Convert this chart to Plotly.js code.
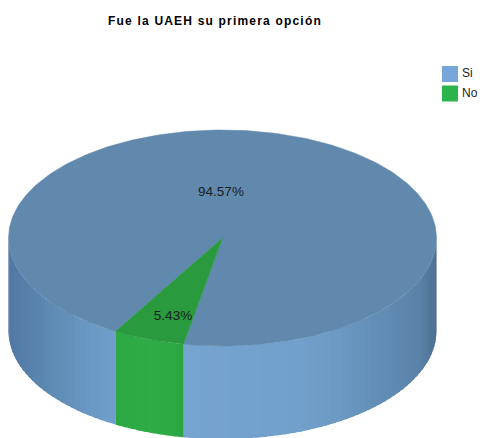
<!DOCTYPE html>
<html>
<head>
<meta charset="utf-8">
<script src="https://cdn.plot.ly/plotly-3.0.1.min.js"></script>
<style>
html,body{margin:0;padding:0;background:#fff;}
#chart{width:482px;height:438px;}
.gtitle{letter-spacing:1.19px;}
</style>
</head>
<body>
<div id="chart"></div>
<script>
var categories = ['Si', 'No'];
var values = [94.57, 5.43];
var chartTitle = 'Fue la UAEH su primera opción';

var topColors = ['#6189ae', '#2a9a3e'];
var legendColors = ['#77a7da', '#2db34b'];
// side colour by pixel x: [x, r, g, b]
var sideStops = [
  [[9,80,120,162],[50,94,138,180],[110,112,158,204],[185,118,163,207],[300,114,160,204],[335,108,154,197],[370,100,144,184],[420,90,130,168],[437,76,112,146]],
  [[115,44,168,66],[150,46,172,70],[183,44,168,66]]
];

var CX = 222.5, CY = 238, RX = 214, RY = 108, DEPTH = 93;
var START_ANGLE = 30.05; // degrees clockwise from the front of the pie
var STEP = 2;

function px(a){ return CX - RX * Math.sin(a * Math.PI / 180); }
function py(a, d){ return CY + RY * Math.cos(a * Math.PI / 180) + (d || 0); }
function sideColor(stops, x){
  var i = 0;
  while (i < stops.length - 2 && x > stops[i + 1][0]) i++;
  var a = stops[i], b = stops[i + 1];
  var t = Math.max(0, Math.min(1, (x - a[0]) / (b[0] - a[0])));
  return 'rgb(' + [1,2,3].map(function(k){ return Math.round(a[k] + (b[k] - a[k]) * t); }).join(',') + ')';
}

var total = values.reduce(function(s, v){ return s + v; }, 0);
var sideTraces = [], topTraces = [];
var acc = START_ANGLE;
values.forEach(function(v, idx){
  var a0 = acc, a1 = acc + v / total * 360;
  acc = a1;
  // top wedge
  var xs = [CX], ys = [CY];
  for (var a = a0; a < a1; a += 1){ xs.push(px(a)); ys.push(py(a)); }
  xs.push(px(a1)); ys.push(py(a1)); xs.push(CX); ys.push(CY);
  topTraces.push({type:'scatter', mode:'lines', x:xs, y:ys, fill:'toself',
    fillcolor:topColors[idx], line:{color:topColors[idx], width:0.5}, hoverinfo:'skip', showlegend:false});
  // visible outer wall, in overlapping strips so no seams show
  [-360, 0, 360].forEach(function(shift){
    var s0 = Math.max(a0 + shift, -90), s1 = Math.min(a1 + shift, 90);
    for (var s = s0; s < s1; s += STEP){
      var e = Math.min(s + STEP * 1.6, s1);
      var x = [], y = [];
      for (var k = 0; k <= 5; k++){ var t = s + (e - s) * k / 5; x.push(px(t)); y.push(py(t)); }
      for (k = 5; k >= 0; k--){ t = s + (e - s) * k / 5; x.push(px(t)); y.push(py(t, DEPTH)); }
      x.push(x[0]); y.push(y[0]);
      var c = sideColor(sideStops[idx], px(s + STEP / 2));
      sideTraces.push({type:'scatter', mode:'lines', x:x, y:y, fill:'toself', fillcolor:c,
        line:{color:c, width:0}, hoverinfo:'skip', showlegend:false});
    }
  });
});

var labelTrace = {type:'scatter', mode:'text', x:[221, 173], y:[193, 317],
  text: values.map(function(v){ return v.toFixed(2) + '%'; }),
  textposition:'middle center',
  textfont:{family:'Liberation Sans, Arial, sans-serif', size:13.5, color:'#15211e'},
  hoverinfo:'skip', showlegend:false};

var legendTrace = {type:'scatter', mode:'markers', x:[450, 450], y:[74, 93.5],
  marker:{symbol:'square', size:16, color:legendColors, line:{width:0}},
  hoverinfo:'skip', showlegend:false};

var legendText = {type:'scatter', mode:'text', x:[462, 462], y:[74, 94],
  text: categories, textposition:'middle right',
  textfont:{family:'Liberation Sans, Arial, sans-serif', size:12, color:'#222'},
  hoverinfo:'skip', showlegend:false};

var layout = {
  width:482, height:438,
  margin:{l:0, r:0, t:0, b:0},
  paper_bgcolor:'#fff', plot_bgcolor:'#fff',
  showlegend:false,
  title:{text:'<b>' + chartTitle + '</b>', x:215/482, xanchor:'center', y:1-21/438, yanchor:'middle',
    font:{family:'Liberation Sans, Arial, sans-serif', size:12, color:'#000'}},
  xaxis:{range:[0,482], visible:false, fixedrange:true},
  yaxis:{range:[438,0], visible:false, fixedrange:true}
};

Plotly.newPlot('chart', sideTraces.concat(topTraces, [labelTrace, legendTrace, legendText]), layout, {staticPlot:true, displayModeBar:false});
</script>
</body>
</html>
